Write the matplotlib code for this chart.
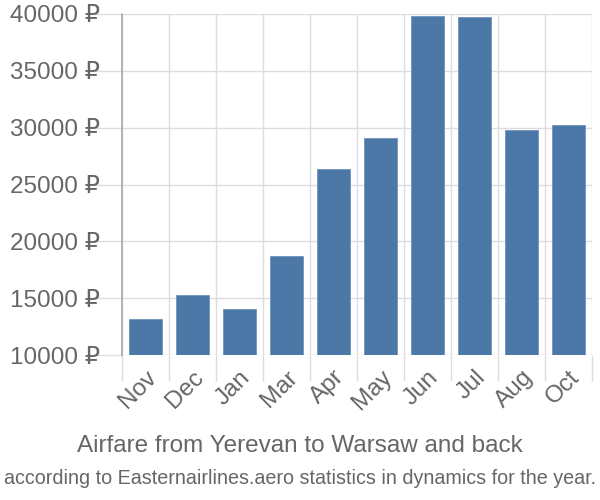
import matplotlib
matplotlib.use('Agg')
import numpy as np
from matplotlib import pyplot as plt

months = ['Nov', 'Dec', 'Jan', 'Mar', 'Apr', 'May', 'Jun', 'Jul', 'Aug', 'Oct']
prices = [13200, 15270, 14090, 18740, 26350, 29090, 39850, 39740, 29800, 30270]
yticks = [10000, 15000, 20000, 25000, 30000, 35000, 40000]

plt.rcParams['font.family'] = ['Liberation Sans', 'DejaVu Sans']
txt = '#666666'

fig = plt.figure(figsize=(6, 5), dpi=100)
ax = fig.add_axes([0.2033, 0.29, 0.7834, 0.682])

x = np.arange(len(months))
ax.bar(x, prices, width=0.72, color='#4c78a8', edgecolor='#6f93bd', linewidth=0.6, zorder=3)

ax.set_xlim(-0.5, len(months) - 0.5)
ax.set_ylim(10000, 40000)
ax.set_yticks(yticks)
ax.set_yticklabels([f'{v} ₽' for v in yticks], color=txt, fontsize=17.5)
ax.set_xticks(x)
ax.set_xticklabels(months, rotation=45, ha='right', rotation_mode='anchor', color=txt, fontsize=17.5)

# grid on category boundaries
ax.set_xticks(np.arange(len(months) + 1) - 0.5, minor=True)
ax.grid(which='minor', axis='x', color='#dddddd', linewidth=1, zorder=0)
ax.grid(which='major', axis='y', color='#dddddd', linewidth=1, zorder=0)
ax.tick_params(axis='x', which='major', length=0, pad=8)
ax.tick_params(axis='x', which='minor', length=19, color='#dddddd', width=1)
ax.tick_params(axis='y', length=20, color='#dddddd', width=1, pad=-4)

for s in ['top', 'right', 'bottom']:
    ax.spines[s].set_visible(False)
ax.spines['left'].set_color('#aaaaaa')
ax.spines['left'].set_linewidth(1.2)

fig.text(0.5, 0.096, 'Airfare from Yerevan to Warsaw and back', ha='center', color=txt, fontsize=17.5)
fig.text(0.5, 0.033, 'according to Easternairlines.aero statistics in dynamics for the year.',
         ha='center', color=txt, fontsize=14.2)

fig.savefig('out.png', dpi=100)
